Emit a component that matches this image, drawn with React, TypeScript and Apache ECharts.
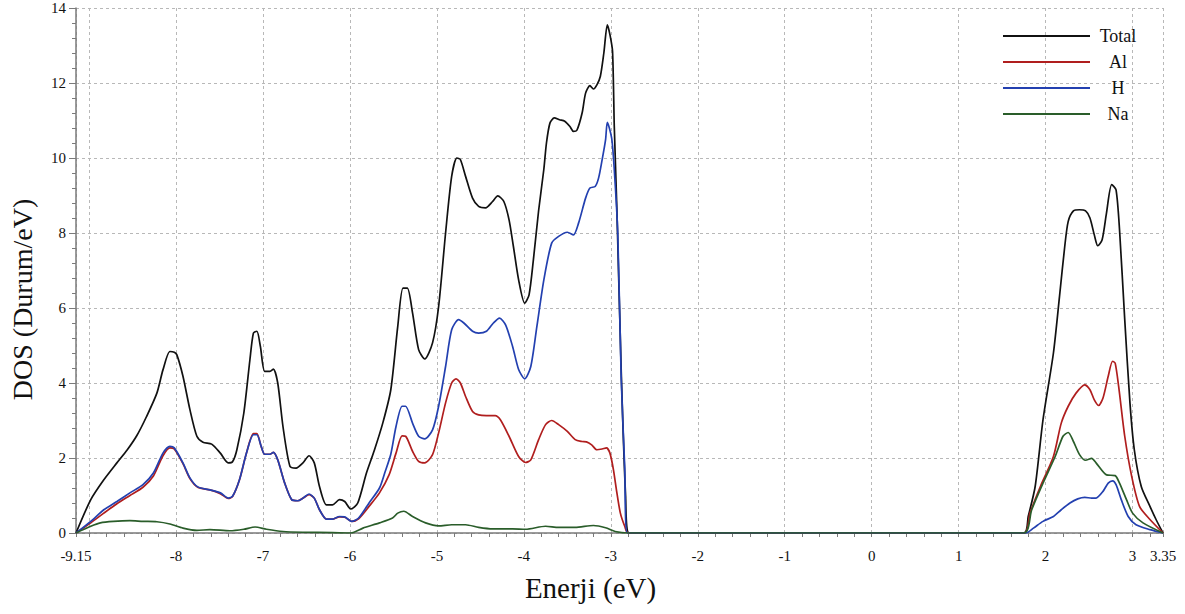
import React, { useEffect, useRef } from "react";
import * as echarts from "echarts";

// ---- Data (energy in eV, DOS in states/eV) ----
const seriesNames = ["Total", "Al", "H", "Na"];
const seriesColors = ["#111111", "#b01e1e", "#2340b0", "#2a5d2a"];

const totalE = [-9.15, -8.98, -8.83, -8.68, -8.56, -8.45, -8.34, -8.22, -8.15, -8.07, -8.02, -7.99, -7.92, -7.84, -7.76, -7.69, -7.59, -7.49, -7.4, -7.35, -7.3, -7.22, -7.15, -7.11, -7.07, -7.03, -6.98, -6.92, -6.88, -6.83, -6.77, -6.69, -6.62, -6.54, -6.47, -6.41, -6.35, -6.27, -6.2, -6.12, -6.06, -5.99, -5.91, -5.81, -5.72, -5.62, -5.53, -5.45, -5.39, -5.34, -5.28, -5.21, -5.14, -5.05, -4.98, -4.9, -4.83, -4.77, -4.73, -4.67, -4.59, -4.52, -4.44, -4.36, -4.3, -4.23, -4.17, -4.12, -4.06, -3.99, -3.94, -3.89, -3.83, -3.77, -3.74, -3.7, -3.65, -3.59, -3.53, -3.47, -3.43, -3.39, -3.33, -3.29, -3.24, -3.2, -3.16, -3.12, -3.08, -3.04, -3.01, -2.98, -2.96, -2.93, -2.88, -2.83, -2.79, 1.75, 1.8, 1.88, 1.97, 2.09, 2.16, 2.22, 2.26, 2.32, 2.39, 2.46, 2.51, 2.56, 2.6, 2.65, 2.7, 2.76, 2.81, 2.85, 2.91, 2.97, 3.02, 3.1, 3.2, 3.27, 3.35];
const totalDos = [0, 0.89, 1.42, 1.87, 2.22, 2.6, 3.1, 3.73, 4.35, 4.84, 4.82, 4.75, 4.18, 3.29, 2.58, 2.42, 2.37, 2.13, 1.87, 1.9, 2.22, 3.2, 4.62, 5.33, 5.38, 4.98, 4.31, 4.31, 4.37, 4.0, 2.84, 1.78, 1.73, 1.87, 2.06, 1.87, 1.24, 0.75, 0.75, 0.89, 0.84, 0.64, 0.8, 1.6, 2.2, 2.95, 3.82, 5.51, 6.53, 6.53, 5.87, 4.89, 4.64, 5.07, 6.04, 8.0, 9.51, 10.0, 9.96, 9.51, 8.93, 8.71, 8.67, 8.84, 8.99, 8.84, 8.35, 7.64, 6.75, 6.13, 6.35, 7.29, 8.6, 9.7, 10.4, 10.93, 11.07, 11.02, 10.98, 10.84, 10.71, 10.74, 11.2, 11.73, 11.93, 11.84, 11.95, 12.18, 12.8, 13.55, 13.29, 12.84, 10.84, 8.62, 4.3, 1.0, 0, 0, 0.44, 1.24, 3.02, 4.8, 6.31, 7.64, 8.31, 8.59, 8.62, 8.59, 8.4, 7.95, 7.66, 7.82, 8.53, 9.29, 9.15, 8.09, 5.69, 3.47, 2.22, 1.24, 0.71, 0.36, 0];

const alE = [-9.15, -8.98, -8.83, -8.68, -8.53, -8.38, -8.26, -8.15, -8.07, -8.02, -7.92, -7.84, -7.75, -7.61, -7.49, -7.4, -7.35, -7.27, -7.19, -7.11, -7.07, -7.02, -6.98, -6.92, -6.88, -6.83, -6.75, -6.67, -6.6, -6.54, -6.47, -6.41, -6.35, -6.27, -6.2, -6.12, -6.06, -5.98, -5.9, -5.78, -5.66, -5.55, -5.47, -5.4, -5.36, -5.28, -5.21, -5.14, -5.05, -4.98, -4.9, -4.83, -4.78, -4.73, -4.67, -4.59, -4.52, -4.43, -4.33, -4.27, -4.17, -4.06, -3.98, -3.92, -3.83, -3.75, -3.68, -3.6, -3.5, -3.41, -3.33, -3.28, -3.22, -3.16, -3.1, -3.05, -3.01, -2.97, -2.93, -2.89, -2.84, -2.8, 1.75, 1.82, 1.94, 2.09, 2.18, 2.26, 2.35, 2.45, 2.51, 2.56, 2.61, 2.66, 2.72, 2.77, 2.8, 2.84, 2.91, 2.99, 3.08, 3.2, 3.35];
const alDos = [0, 0.27, 0.53, 0.78, 1.0, 1.22, 1.52, 2.06, 2.27, 2.24, 1.85, 1.45, 1.22, 1.15, 1.05, 0.92, 0.97, 1.42, 2.13, 2.65, 2.65, 2.3, 2.1, 2.1, 2.15, 1.95, 1.33, 0.89, 0.86, 0.93, 1.02, 0.93, 0.62, 0.37, 0.37, 0.43, 0.42, 0.31, 0.38, 0.71, 1.07, 1.55, 2.13, 2.59, 2.58, 2.18, 1.91, 1.87, 2.09, 2.67, 3.47, 4.0, 4.11, 4.0, 3.64, 3.24, 3.15, 3.13, 3.13, 3.02, 2.58, 2.04, 1.88, 1.95, 2.49, 2.89, 3.0, 2.89, 2.71, 2.49, 2.44, 2.43, 2.35, 2.22, 2.24, 2.27, 2.13, 1.69, 1.07, 0.53, 0.18, 0, 0, 0.53, 1.24, 2.04, 2.93, 3.38, 3.73, 3.95, 3.82, 3.55, 3.4, 3.6, 4.18, 4.58, 4.53, 3.91, 2.58, 1.51, 0.71, 0.36, 0];

const hE = [-9.15, -8.98, -8.83, -8.68, -8.53, -8.38, -8.26, -8.15, -8.07, -8.02, -7.92, -7.84, -7.75, -7.61, -7.49, -7.4, -7.35, -7.27, -7.19, -7.11, -7.07, -7.02, -6.98, -6.92, -6.88, -6.83, -6.75, -6.67, -6.6, -6.54, -6.47, -6.41, -6.35, -6.27, -6.2, -6.12, -6.06, -5.98, -5.9, -5.78, -5.66, -5.6, -5.53, -5.47, -5.4, -5.36, -5.28, -5.21, -5.14, -5.05, -4.98, -4.9, -4.83, -4.75, -4.69, -4.59, -4.52, -4.43, -4.35, -4.28, -4.21, -4.13, -4.06, -3.99, -3.92, -3.85, -3.77, -3.68, -3.6, -3.5, -3.43, -3.37, -3.29, -3.24, -3.18, -3.14, -3.1, -3.06, -3.04, -2.99, -2.96, -2.92, -2.88, -2.84, -2.81, 1.77, 1.86, 1.97, 2.09, 2.18, 2.28, 2.37, 2.45, 2.53, 2.58, 2.66, 2.72, 2.77, 2.81, 2.87, 2.95, 3.04, 3.2, 3.35];
const hDos = [0, 0.31, 0.62, 0.84, 1.07, 1.29, 1.6, 2.13, 2.31, 2.27, 1.87, 1.47, 1.23, 1.15, 1.07, 0.93, 0.98, 1.42, 2.13, 2.62, 2.62, 2.31, 2.1, 2.1, 2.15, 1.95, 1.33, 0.89, 0.86, 0.93, 1.04, 0.93, 0.62, 0.37, 0.37, 0.44, 0.43, 0.31, 0.4, 0.8, 1.2, 1.6, 2.1, 2.84, 3.38, 3.38, 2.93, 2.58, 2.51, 2.75, 3.38, 4.44, 5.42, 5.69, 5.6, 5.38, 5.33, 5.38, 5.6, 5.73, 5.55, 4.98, 4.36, 4.11, 4.44, 5.51, 6.75, 7.73, 7.91, 8.02, 7.95, 8.27, 8.93, 9.2, 9.24, 9.47, 9.95, 10.49, 10.95, 10.53, 9.69, 8.0, 4.1, 1.75, 0, 0, 0.13, 0.31, 0.44, 0.62, 0.8, 0.91, 0.95, 0.93, 0.93, 1.11, 1.33, 1.39, 1.29, 0.89, 0.44, 0.22, 0.09, 0];

const naE = [-9.15, -8.98, -8.87, -8.72, -8.53, -8.38, -8.22, -8.07, -7.92, -7.76, -7.61, -7.38, -7.22, -7.09, -6.96, -6.77, -6.54, -6.2, -5.99, -5.85, -5.66, -5.51, -5.45, -5.38, -5.28, -5.13, -4.98, -4.83, -4.67, -4.52, -4.36, -4.13, -3.98, -3.75, -3.6, -3.41, -3.2, -3.06, -2.95, -2.8, 1.75, 1.84, 1.97, 2.11, 2.2, 2.26, 2.32, 2.39, 2.46, 2.53, 2.58, 2.7, 2.8, 2.85, 2.93, 3.0, 3.12, 3.35];
const naDos = [0, 0.18, 0.27, 0.31, 0.33, 0.31, 0.3, 0.24, 0.13, 0.07, 0.09, 0.06, 0.1, 0.16, 0.1, 0.04, 0.02, 0.01, 0, 0.13, 0.27, 0.4, 0.53, 0.58, 0.44, 0.27, 0.19, 0.22, 0.22, 0.15, 0.11, 0.11, 0.1, 0.18, 0.15, 0.15, 0.2, 0.14, 0.04, 0, 0, 0.62, 1.33, 2.04, 2.58, 2.68, 2.44, 2.09, 1.94, 1.99, 1.87, 1.55, 1.53, 1.33, 0.89, 0.53, 0.27, 0];

const xMin = -9.15;
const xMax = 3.35;
const yTicks = [0, 2, 4, 6, 8, 10, 12, 14];

const FONT = "'Liberation Serif', 'Times New Roman', serif";

function pairs(xs: number[], ys: number[]) {
  return xs.map((x, i) => [x, ys[i]]);
}

export default function App() {
  const ref = useRef<HTMLDivElement>(null);

  useEffect(() => {
    if (!ref.current) return;
    const chart = echarts.init(ref.current, undefined, { renderer: "svg" });
    const allData = [
      pairs(totalE, totalDos),
      pairs(alE, alDos),
      pairs(hE, hDos),
      pairs(naE, naDos),
    ];
    const option: any = {
      animation: false,
      backgroundColor: "#ffffff",
      grid: { left: 73, right: 22, top: 8, bottom: 81, containLabel: false },
      legend: {
        orient: "vertical",
        left: 998,
        top: 22,
        icon: "rect",
        itemWidth: 87,
        itemHeight: 2,
        itemGap: 8,
        data: seriesNames,
        formatter: "{c|{name}}",
        textStyle: {
          fontFamily: FONT,
          fontSize: 18,
          color: "#111",
          rich: {
            c: { width: 46, align: "center", fontFamily: FONT, fontSize: 18, lineHeight: 20, color: "#111" },
          },
        },
      },
      xAxis: {
        type: "value",
        min: xMin,
        max: xMax,
        minInterval: 1,
        maxInterval: 1,
        splitNumber: 12,
        name: "Enerji (eV)",
        nameLocation: "middle",
        nameGap: 40,
        nameTextStyle: { fontFamily: FONT, fontSize: 29, color: "#111", padding: [0, 58, 0, 0] },
        axisLine: { show: true, onZero: false, lineStyle: { color: "#7a7a7a", width: 1.5 } },
        axisTick: { show: true, length: 4, lineStyle: { color: "#7a7a7a", width: 1 } },
        minorTick: { show: true, splitNumber: 5, length: 4, lineStyle: { color: "#7a7a7a", width: 1 } },
        axisLabel: {
          fontFamily: FONT,
          fontSize: 15,
          color: "#111",
          margin: 15,
          formatter: (v: number) => (Math.abs(v + 9) < 1e-6 ? "" : String(Math.round(v * 100) / 100)),
        },
        splitLine: { show: true, lineStyle: { color: "#b8b8b8", type: [3, 3], width: 1 } },
      },
      yAxis: {
        type: "value",
        min: yTicks[0],
        max: yTicks[yTicks.length - 1],
        interval: 2,
        name: "DOS (Durum/eV)",
        nameLocation: "middle",
        nameGap: 40,
        nameTextStyle: { fontFamily: FONT, fontSize: 28, color: "#111", padding: [0, 58, 0, 0] },
        axisLine: { show: true, onZero: false, lineStyle: { color: "#7a7a7a", width: 1.5 } },
        axisTick: { show: true, length: 7, lineStyle: { color: "#7a7a7a", width: 1 } },
        minorTick: { show: true, splitNumber: 5, length: 4, lineStyle: { color: "#7a7a7a", width: 1 } },
        axisLabel: { fontFamily: FONT, fontSize: 15, color: "#111", margin: 10 },
        splitLine: { show: true, lineStyle: { color: "#b8b8b8", type: [3, 3], width: 1 } },
      },
      series: seriesNames.map((name, i) => ({
        name,
        type: "line",
        data: allData[i],
        symbol: "none",
        smooth: 0.25,
        color: seriesColors[i],
        lineStyle: { color: seriesColors[i], width: 1.7 },
        z: 2 + i,
      })),
    };
    chart.setOption(option);
    return () => chart.dispose();
  }, []);

  return (
    <div
      ref={ref}
      style={{ position: "fixed", left: 0, top: 0, width: 1185, height: 614, background: "#fff" }}
    />
  );
}
